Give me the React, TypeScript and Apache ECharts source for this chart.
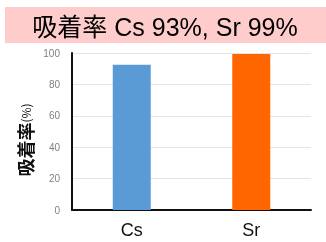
import React, { useEffect, useRef } from "react";
import * as echarts from "echarts";

const categories = ["Cs", "Sr"];
const values = [92.5, 99.3];
const barColors = ["#5b9bd5", "#ff6600"];
const titleText = "吸着率 Cs 93%, Sr 99%";
const yTicks = [0, 20, 40, 60, 80, 100];

export default function App() {
  const ref = useRef<HTMLDivElement>(null);
  useEffect(() => {
    if (!ref.current) return;
    const chart = echarts.init(ref.current, null, { renderer: "svg" });
    chart.setOption({
      animation: false,
      graphic: [
        {
          type: "rect",
          shape: { x: 5, y: 7, width: 330, height: 36 },
          style: { fill: "#ffcccc" },
          z: 0,
        },
        {
          type: "text",
          x: 165,
          y: 27,
          style: {
            text: titleText,
            fill: "#000",
            font: '25px "Liberation Sans", "Noto Sans CJK JP", sans-serif',
            textAlign: "center",
            textVerticalAlign: "middle",
          },
          z: 1,
        },
        {
          type: "text",
          x: 25,
          y: 140,
          rotation: Math.PI / 2,
          style: {
            text: "{a|吸着率}{b|(%)}",
            textAlign: "center",
            textVerticalAlign: "middle",
            rich: {
              a: {
                fontSize: 18,
                fontWeight: "bold",
                fill: "#111",
                fontFamily: '"Noto Sans CJK JP", sans-serif',
              },
              b: {
                fontSize: 12,
                fill: "#111",
                fontFamily: '"Noto Sans CJK JP", sans-serif',
              },
            },
          },
          z: 1,
        },
      ],
      grid: { left: 72, right: 15, top: 53, bottom: 32 },
      xAxis: {
        type: "category",
        data: categories,
        axisLine: { lineStyle: { color: "#111", width: 2 } },
        axisTick: { show: false },
        axisLabel: {
          color: "#111",
          fontSize: 18,
          fontFamily: '"Liberation Sans", sans-serif',
          margin: 11,
        },
      },
      yAxis: {
        type: "value",
        min: yTicks[0],
        max: yTicks[yTicks.length - 1],
        interval: 20,
        axisLine: { show: true, lineStyle: { color: "#111", width: 2 } },
        axisTick: { show: false },
        axisLabel: {
          color: "#808080",
          fontSize: 10,
          fontFamily: '"Liberation Sans", sans-serif',
          margin: 12,
        },
        splitLine: { lineStyle: { color: "#e4e4e4", width: 1 } },
      },
      series: [
        {
          type: "bar",
          barWidth: 38,
          data: values.map((v, i) => ({
            value: v,
            itemStyle: { color: barColors[i] },
          })),
        },
      ],
    });
    return () => chart.dispose();
  }, []);
  return (
    <div
      ref={ref}
      style={{ position: "fixed", left: 0, top: 0, width: 326, height: 242 }}
    />
  );
}
